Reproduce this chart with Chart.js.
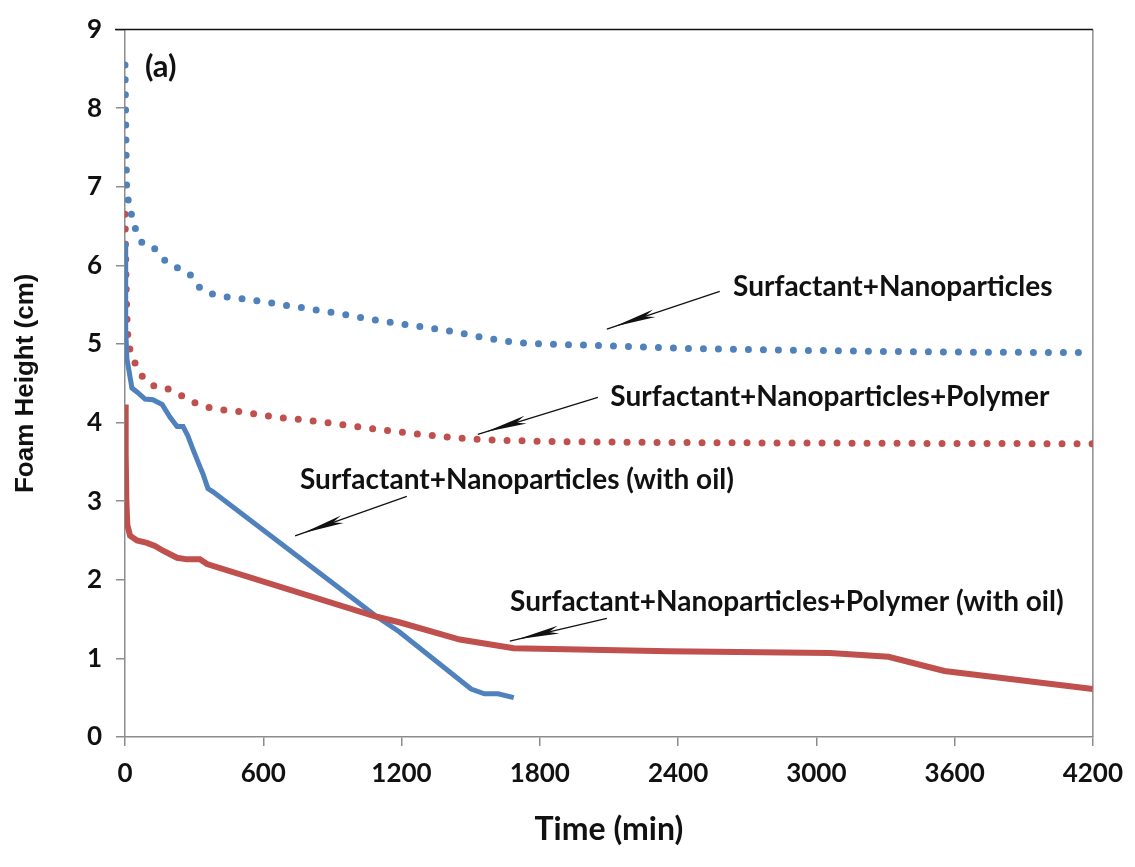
<!DOCTYPE html>
<html>
<head>
<meta charset="utf-8">
<script src="https://cdn.jsdelivr.net/npm/chart.js@4/dist/chart.umd.min.js"></script>
<style>
  html, body { margin: 0; padding: 0; background: #fff; }
  #wrap { width: 1135px; height: 867px; position: relative; }
</style>
</head>
<body>
<div id="wrap"><canvas id="foamChart"></canvas></div>
<script>
// ---------------- data ----------------
// Surfactant+Nanoparticles (dotted blue)
var snTime   = [0, 8, 22, 30, 48, 74, 134, 178, 234, 290, 330, 390, 525, 659, 859, 1119, 1397, 1670, 2061, 2495, 2928, 3500, 4200];
var snHeight = [8.55, 6.96, 6.79, 6.6, 6.45, 6.29, 6.2, 6.05, 5.96, 5.86, 5.7, 5.63, 5.57, 5.51, 5.42, 5.29, 5.17, 5.03, 4.98, 4.94, 4.92, 4.9, 4.89];

// Surfactant+Nanoparticles+Polymer (dotted red)
var snpTime   = [0, 6, 13, 30, 48, 78, 139, 195, 260, 321, 382, 521, 655, 790, 924, 1054, 1193, 1323, 1460, 1700, 2200, 3000, 4200];
var snpHeight = [6.65, 5.6, 5.08, 4.89, 4.72, 4.58, 4.45, 4.42, 4.32, 4.23, 4.18, 4.13, 4.07, 4.03, 3.98, 3.93, 3.88, 3.84, 3.8, 3.77, 3.75, 3.74, 3.73];

// Surfactant+Nanoparticles (with oil) (solid blue)
var snOilTime   = [0, 3, 8, 30, 52, 87, 121, 161, 195, 226, 252, 273, 295, 325, 338, 360, 382, 1093, 1190, 1502, 1560, 1619, 1687];
var snOilHeight = [6.3, 5.2, 4.82, 4.44, 4.39, 4.3, 4.29, 4.23, 4.07, 3.95, 3.95, 3.83, 3.66, 3.44, 3.35, 3.16, 3.12, 1.53, 1.34, 0.61, 0.55, 0.55, 0.5];

// Surfactant+Nanoparticles+Polymer (with oil) (solid red)
var snpOilTime   = [0, 3, 6, 10, 22, 52, 95, 130, 165, 226, 269, 325, 356, 1093, 1190, 1453, 1687, 2359, 3060, 3313, 3556, 4200];
var snpOilHeight = [4.23, 3.6, 3.0, 2.7, 2.56, 2.5, 2.47, 2.43, 2.37, 2.28, 2.26, 2.26, 2.2, 1.53, 1.46, 1.24, 1.13, 1.09, 1.07, 1.02, 0.84, 0.61];

var xTicks = [0, 600, 1200, 1800, 2400, 3000, 3600, 4200];
var yTicks = [0, 1, 2, 3, 4, 5, 6, 7, 8, 9];

// labels + arrows, in data units (label centre, arrow start, arrow tip)
var noteText = ['Surfactant+Nanoparticles', 'Surfactant+Nanoparticles+Polymer',
                'Surfactant+Nanoparticles (with oil)', 'Surfactant+Nanoparticles+Polymer (with oil)'];
var noteAt    = [[3332, 5.72], [3059, 4.33], [1701, 3.27], [2872, 1.72]];
var arrowFrom = [[2581, 5.67], [2052, 4.32], [1223, 3.06], [2091, 1.51]];
var arrowTo   = [[2091, 5.19], [1531, 3.85], [738, 2.56], [1670, 1.22]];

var BLUE = '#4F81BD';
var RED = '#C0504D';
var FONT = 'Lato, "Open Sans", "DejaVu Sans", sans-serif';

function toPoints(xs, ys) {
  return xs.map(function (x, i) { return { x: x, y: ys[i] }; });
}

// ---------- plot frame, panel tag and annotations ----------
var extrasPlugin = {
  id: 'extras',
  beforeDatasetsDraw: function (chart) {
    var ctx = chart.ctx, a = chart.chartArea;
    ctx.save();
    ctx.lineWidth = 1.5;
    ctx.strokeStyle = '#8c8c8c';
    ctx.beginPath();
    ctx.moveTo(a.right, a.top);
    ctx.lineTo(a.right, a.bottom);
    ctx.stroke();
    ctx.strokeStyle = '#111';
    ctx.beginPath();
    ctx.moveTo(a.left - 10, a.top);
    ctx.lineTo(a.right, a.top);
    ctx.stroke();
    ctx.restore();
  },
  afterDatasetsDraw: function (chart) {
    var ctx = chart.ctx;
    var xs = chart.scales.x, ys = chart.scales.y;
    ctx.save();
    ctx.fillStyle = '#111';
    ctx.textAlign = 'center';
    ctx.textBaseline = 'middle';
    ctx.font = 'bold 31px ' + FONT;
    ctx.fillText('(a)', xs.getPixelForValue(155), ys.getPixelForValue(8.53));

    ctx.font = 'bold 28px ' + FONT;
    for (var i = 0; i < noteText.length; i++) {
      ctx.fillText(noteText[i], xs.getPixelForValue(noteAt[i][0]), ys.getPixelForValue(noteAt[i][1]));

      var x1 = xs.getPixelForValue(arrowFrom[i][0]), y1 = ys.getPixelForValue(arrowFrom[i][1]);
      var x2 = xs.getPixelForValue(arrowTo[i][0]), y2 = ys.getPixelForValue(arrowTo[i][1]);
      ctx.strokeStyle = '#111';
      ctx.lineWidth = 1.3;
      ctx.beginPath();
      ctx.moveTo(x1, y1);
      ctx.lineTo(x2, y2);
      ctx.stroke();

      // narrow stealth-like head
      var ang = Math.atan2(y2 - y1, x2 - x1);
      var len = 42, half = 4;
      var tipX = x2 - Math.cos(ang) * 8, tipY = y2 - Math.sin(ang) * 8;
      var bx = tipX - Math.cos(ang) * len, by = tipY - Math.sin(ang) * len;
      ctx.beginPath();
      ctx.moveTo(tipX, tipY);
      ctx.lineTo(bx - Math.sin(ang) * half, by + Math.cos(ang) * half);
      ctx.lineTo(bx + Math.cos(ang) * 10, by + Math.sin(ang) * 10);
      ctx.lineTo(bx + Math.sin(ang) * half, by - Math.cos(ang) * half);
      ctx.closePath();
      ctx.fillStyle = '#111';
      ctx.fill();
    }
    ctx.restore();
  }
};

var ctx = document.getElementById('foamChart').getContext('2d');
var chart = new Chart(ctx, {
  type: 'line',
  data: {
    datasets: [
      {
        label: 'Surfactant+Nanoparticles (with oil)',
        data: toPoints(snOilTime, snOilHeight),
        borderColor: BLUE,
        borderWidth: 5,
        tension: 0,
        order: 2
      },
      {
        label: 'Surfactant+Nanoparticles+Polymer (with oil)',
        data: toPoints(snpOilTime, snpOilHeight),
        borderColor: RED,
        borderWidth: 6,
        tension: 0,
        order: 1
      },
      {
        label: 'Surfactant+Nanoparticles+Polymer',
        data: toPoints(snpTime, snpHeight),
        borderColor: RED,
        borderWidth: 7,
        borderDash: [0, 15],
        borderCapStyle: 'round',
        cubicInterpolationMode: 'monotone',
        order: 4
      },
      {
        label: 'Surfactant+Nanoparticles',
        data: toPoints(snTime, snHeight),
        borderColor: BLUE,
        borderWidth: 7,
        borderDash: [0, 15],
        borderCapStyle: 'round',
        cubicInterpolationMode: 'monotone',
        order: 3
      }
    ]
  },
  options: {
    responsive: true,
    maintainAspectRatio: false,
    animation: false,
    elements: { point: { radius: 0, hoverRadius: 0 } },
    layout: { padding: { top: 20, right: 42, left: 0, bottom: 0 } },
    plugins: {
      legend: { display: false },
      tooltip: { enabled: false }
    },
    scales: {
      x: {
        type: 'linear',
        min: 0,
        max: 4200,
        afterFit: function (scale) { scale.height = 130; },
        afterBuildTicks: function (scale) {
          scale.ticks = xTicks.map(function (v) { return { value: v }; });
        },
        grid: { drawOnChartArea: false, drawTicks: true, tickLength: 9, color: '#8c8c8c', lineWidth: 1.5 },
        border: { display: true, color: '#8c8c8c', width: 1.5 },
        ticks: {
          color: '#111',
          padding: 12,
          maxRotation: 0,
          font: { family: FONT, size: 26, weight: 'bold' },
          callback: function (v) { return String(v); }
        },
        title: {
          display: true,
          text: 'Time (min)',
          color: '#111',
          padding: { top: 0, bottom: 18 },
          font: { family: FONT, size: 32, weight: 'bold' }
        }
      },
      y: {
        min: 0,
        max: 9,
        afterFit: function (scale) { scale.width = 125; },
        afterBuildTicks: function (scale) {
          scale.ticks = yTicks.map(function (v) { return { value: v }; });
        },
        grid: { drawOnChartArea: false, drawTicks: true, tickLength: 9, color: '#8c8c8c', lineWidth: 1.5 },
        border: { display: true, color: '#8c8c8c', width: 1.5 },
        ticks: {
          color: '#111',
          padding: 14,
          font: { family: FONT, size: 26, weight: 'bold' },
          callback: function (v) { return String(v); }
        },
        title: {
          display: true,
          text: 'Foam Height (cm)',
          color: '#111',
          padding: { top: 10, bottom: 0 },
          font: { family: '"Liberation Sans", Arial, sans-serif', size: 26, weight: 'bold' }
        }
      }
    }
  },
  plugins: [extrasPlugin]
});
</script>
</body>
</html>
